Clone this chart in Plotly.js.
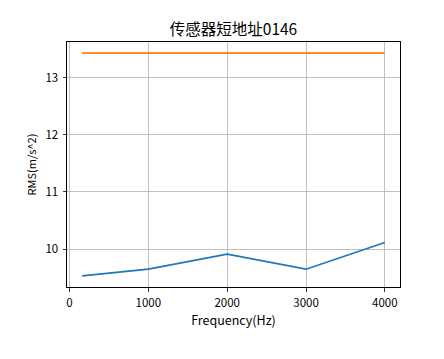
<!DOCTYPE html>
<html>
<head>
<meta charset="utf-8">
<script src="https://cdn.plot.ly/plotly-3.0.1.min.js"></script>
<style>html,body{margin:0;padding:0;background:#fff;}#chart{width:444px;height:359px;}</style>
</head>
<body>
<div id="chart"></div>
<script>
const frequency = [160, 1000, 2000, 3000, 4000];
const rmsMeasured = [9.532, 9.649, 9.912, 9.649, 10.117];
const rmsLimit = [13.426, 13.426, 13.426, 13.426, 13.426];
const xTicks = [0, 1000, 2000, 3000, 4000];
const yTicks = [10, 11, 12, 13];

const font = "'Noto Sans CJK SC', 'DejaVu Sans', sans-serif";
const traces = [
  {x: frequency, y: rmsMeasured, mode: 'lines', line: {color: '#1f77b4', width: 1.6}, hoverinfo: 'skip'},
  {x: frequency, y: rmsLimit, mode: 'lines', line: {color: '#ff7f0e', width: 1.6}, hoverinfo: 'skip'}
];
const axisCommon = {
  showline: true, linecolor: '#000', linewidth: 1, mirror: true,
  ticks: 'outside', ticklen: 3.5, tickwidth: 0.8, tickcolor: '#000',
  showgrid: true, gridcolor: '#b0b0b0', gridwidth: 0.8, zeroline: false,
  tickfont: {family: font, size: 11.5, color: '#000'}
};
const layout = {
  width: 444, height: 359,
  margin: {l: 67, r: 44, t: 42, b: 72},
  paper_bgcolor: '#fff', plot_bgcolor: '#fff',
  showlegend: false,
  title: {text: '传感器短地址0146', font: {family: font, size: 15.5, color: '#000'}, xref: 'paper', x: 0.5, xanchor: 'center', y: 0.918, yanchor: 'middle'},
  xaxis: Object.assign({}, axisCommon, {
    range: [-32, 4192], tickvals: xTicks, ticktext: xTicks.map(String),
    ticklabelstandoff: 2,
    title: {text: 'Frequency(Hz)', font: {family: font, size: 12.5, color: '#000'}, standoff: 4}
  }),
  yaxis: Object.assign({}, axisCommon, {
    range: [9.337, 13.621], tickvals: yTicks, ticktext: yTicks.map(String),
    ticklabelstandoff: 2,
    title: {text: 'RMS(m/s^2)', font: {family: font, size: 11, color: '#000'}, standoff: 6}
  })
};
Plotly.newPlot('chart', traces, layout, {staticPlot: true, displayModeBar: false});
</script>
</body>
</html>
